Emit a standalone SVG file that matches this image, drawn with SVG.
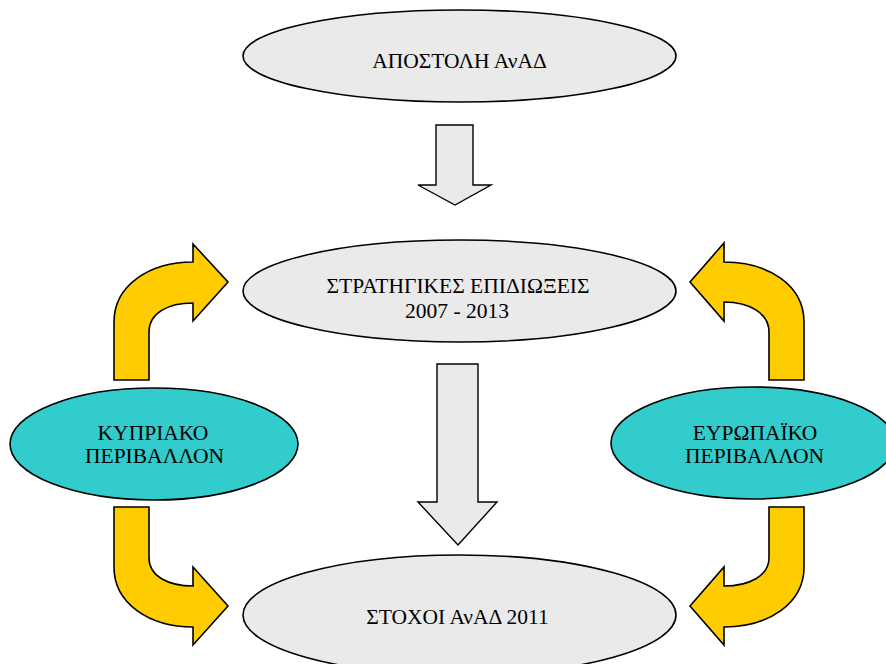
<svg xmlns="http://www.w3.org/2000/svg" width="886" height="664" viewBox="0 0 886 664">
<style>
.g{fill:#EAEAEA;stroke:#000;stroke-width:1.6}
.c{fill:#33CCCC;stroke:#000;stroke-width:1.6}
.y{fill:#FFCC00;stroke:#000;stroke-width:1.6;stroke-linejoin:miter}
.a{fill:#EAEAEA;stroke:#000;stroke-width:1.4}
text{font-family:'Liberation Serif','DejaVu Serif',serif;font-size:21.5px;fill:#000;text-anchor:middle}
</style>
<rect width="886" height="664" fill="#fff"/>
<g id="connectors">
<path class="a" d="M436,125 L473,125 L473,185 L491,185 L455,205 L418,185 L436,185 Z"/>
<path class="a" d="M437,364 L478,364 L478,502 L497,502 L458,545 L418,502 L437,502 Z"/>
<path class="y" d="M114,380 L114,322 C114,285 150,262 193,262 L193,244 L228,282 L193,321 L193,303 C168,303 149,313 149,332 L149,380 Z"/>
<path class="y" d="M804,380 L804,322 C804,285 768,262 724,262 L724,243 L690,282 L724,321 L724,302 C749,302 769,313 769,332 L769,380 Z"/>
<path class="y" d="M114,507 L114,567 C114,604 150,627 193,627 L193,645 L228,606 L193,567 L193,586 C168,586 149,576 149,558 L149,507 Z"/>
<path class="y" d="M804,507 L804,567 C804,604 768,627 724,627 L724,645 L690,606 L724,567 L724,586 C749,586 769,576 769,558 L769,507 Z"/>
</g>
<g id="mission">
<ellipse class="g" cx="459.5" cy="56" rx="216.5" ry="46"/>
<text x="459.5" y="68">ΑΠΟΣΤΟΛΗ ΑνΑΔ</text>
</g>
<g id="strategic">
<ellipse class="g" cx="459.5" cy="291" rx="216.5" ry="51"/>
<text x="458" y="293">ΣΤΡΑΤΗΓΙΚΕΣ ΕΠΙΔΙΩΞΕΙΣ</text>
<text x="457" y="318">2007 - 2013</text>
</g>
<g id="goals">
<ellipse class="g" cx="459.5" cy="615" rx="216.5" ry="60"/>
<text x="457.5" y="624">ΣΤΟΧΟΙ ΑνΑΔ 2011</text>
</g>
<g id="cyprus">
<ellipse class="c" cx="154" cy="444" rx="144" ry="56"/>
<text x="153" y="440">ΚΥΠΡΙΑΚΟ</text>
<text x="154.5" y="463">ΠΕΡΙΒΑΛΛΟΝ</text>
</g>
<g id="europe">
<ellipse class="c" cx="753" cy="443" rx="142" ry="56"/>
<text x="755" y="440">ΕΥΡΩΠΑΪΚΟ</text>
<text x="754.5" y="463">ΠΕΡΙΒΑΛΛΟΝ</text>
</g>
</svg>
